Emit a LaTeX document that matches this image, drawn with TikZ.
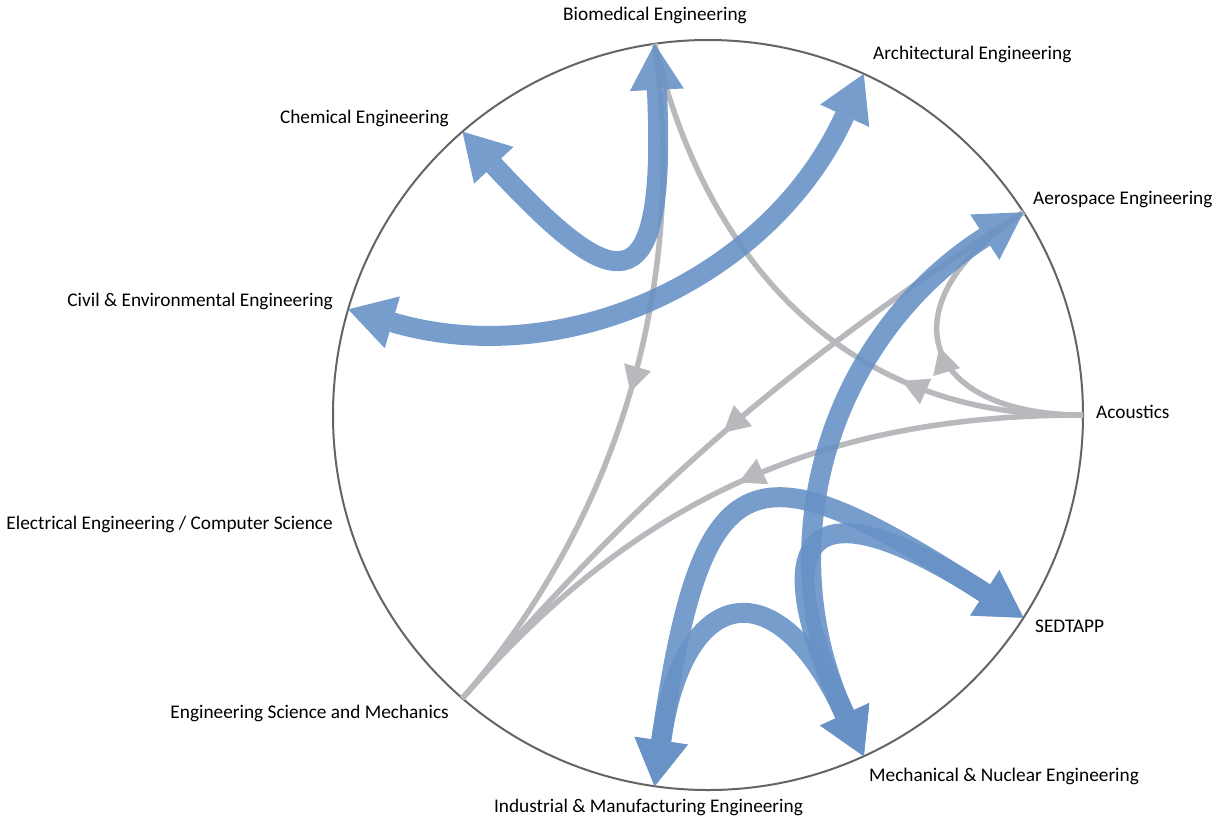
\documentclass[tikz,border=0pt]{standalone}
\usepackage{fontspec}
\setmainfont{Carlito}
\usetikzlibrary{calc,arrows.meta,decorations.markings}
\definecolor{edgeblue}{RGB}{104,146,198}
\definecolor{edgegrey}{RGB}{184,185,189}
\definecolor{ringgrey}{RGB}{100,100,100}
\begin{document}
\begin{tikzpicture}[x=1pt,y=-1pt,
  ring/.style={draw=ringgrey, line width=2pt},
  lbl/.style={inner sep=0pt, font=\fontsize{19.3}{23}\selectfont, text=black},
  blueedge/.style={draw=edgeblue, opacity=0.9, line width=20pt,
    arrows={Triangle[length=46pt,width=54pt,line width=0pt 0,fill=edgeblue]-Triangle[length=46pt,width=54pt,line width=0pt 0,fill=edgeblue]}},
  greyedge/.style={draw=edgegrey, line width=5.5pt, postaction={decorate},
    decoration={markings, mark=at position #1 with {\arrow[edgegrey]{Triangle[length=26pt,width=28pt,line width=0pt 0]}}}},
  greyedge/.default=0.5]
\useasboundingbox (0,0) rectangle (1220,823);
\coordinate (O) at (708,415);
\foreach \n/\a in {acou/0, aero/32.727, arch/65.455, bio/98.182, chem/130.909, civil/163.636, elec/196.364, esm/229.091, ime/261.818, mne/294.545, sed/327.273}
  \coordinate (\n) at ($(O)+(\a:375pt)$);
\draw[ring] (O) circle[radius=375pt];

% labels
\node[lbl, anchor=base] (Lbio) at (655,20) {Biomedical Engineering};
\node[lbl, anchor=base west] (Larch) at (873,59) {Architectural Engineering};
\node[lbl, anchor=base west] (Laero) at (1033,204) {Aerospace Engineering};
\node[lbl, anchor=base west] (Lacou) at (1096,418) {Acoustics};
\node[lbl, anchor=base west] (Lsed) at (1035,632) {SEDTAPP};
\node[lbl, anchor=base west] (Lmne) at (869,781) {Mechanical \& Nuclear Engineering};
\node[lbl, anchor=base] (Lime) at (648.5,812) {Industrial \& Manufacturing Engineering};
\node[lbl, anchor=base east] (Lesm) at (449,718) {Engineering Science and Mechanics};
\node[lbl, anchor=base east] (Lelec) at (333,529) {Electrical Engineering / Computer Science};
\node[lbl, anchor=base east] (Lcivil) at (333,306) {Civil \& Environmental Engineering};
\node[lbl, anchor=base east] (Lchem) at (449,123) {Chemical Engineering};

% grey edges
\draw[greyedge] (bio) .. controls ($(bio)!0.64!(O)$) and ($(esm)!0.64!(O)$) .. (esm);
\draw[greyedge=0.3] (acou) .. controls (830,420) and (700,240) .. (bio);
\draw[greyedge] (acou) .. controls ($(acou)!0.44!(O)$) and ($(aero)!0.44!(O)$) .. (aero);
\draw[greyedge] (aero) .. controls ($(aero)!0.75!(O)$) and ($(esm)!0.75!(O)$) .. (esm);
\draw[greyedge] (acou) .. controls ($(acou)!0.7!(O)$) and ($(esm)!0.7!(O)$) .. (esm);

% blue edges
\draw[blueedge] (chem) .. controls (610,290) and (668,320) .. (bio);
\draw[blueedge] (civil) .. controls ($(civil)!0.6!(O)$) and ($(arch)!0.6!(O)$) .. (arch);
\draw[blueedge] (aero) .. controls ($(aero)!0.62!(O)$) and ($(mne)!0.62!(O)$) .. (mne);
\draw[blueedge] (ime) .. controls ($(ime)!0.9!(O)$) and ($(sed)!0.86!(O)$) .. (sed);
\draw[blueedge] (mne) .. controls ($(mne)!0.67!(O)$) and ($(sed)!0.67!(O)$) .. (sed);
\draw[blueedge] (ime) .. controls ($(ime)!0.55!(O)$) and ($(mne)!0.55!(O)$) .. (mne);
\end{tikzpicture}
\end{document}
